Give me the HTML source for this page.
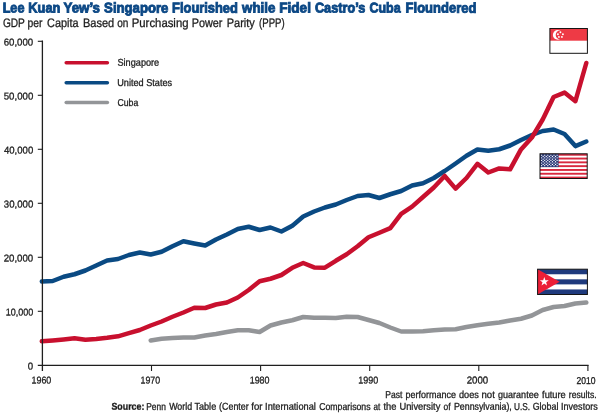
<!DOCTYPE html>
<html><head><meta charset="utf-8"><title>Chart</title>
<style>
html,body{margin:0;padding:0;background:#fff;}
body{width:600px;height:415px;overflow:hidden;font-family:"Liberation Sans",sans-serif;}
svg{display:block;}
text{font-family:"Liberation Sans",sans-serif;}
</style></head><body>
<svg width="600" height="415" viewBox="0 0 600 415">
<rect width="600" height="415" fill="#ffffff"/>
<g opacity="0.999">
<text transform="translate(2.63,12.60) rotate(0.03) scale(0.8916,1)" font-size="14.2" font-weight="bold" fill="#0c4885" stroke="#0c4885" stroke-width="0.9">Lee</text>
<text transform="translate(28.37,12.60) rotate(0.03) scale(0.9002,1)" font-size="14.2" font-weight="bold" fill="#0c4885" stroke="#0c4885" stroke-width="0.9">Kuan</text>
<text transform="translate(63.50,12.60) rotate(0.03) scale(0.9380,1)" font-size="14.2" font-weight="bold" fill="#0c4885" stroke="#0c4885" stroke-width="0.9">Yew’s</text>
<text transform="translate(104.12,12.60) rotate(0.03) scale(0.9266,1)" font-size="14.2" font-weight="bold" fill="#0c4885" stroke="#0c4885" stroke-width="0.9">Singapore</text>
<text transform="translate(172.11,12.60) rotate(0.03) scale(0.9064,1)" font-size="14.2" font-weight="bold" fill="#0c4885" stroke="#0c4885" stroke-width="0.9">Flourished</text>
<text transform="translate(242.12,12.60) rotate(0.03) scale(0.9364,1)" font-size="14.2" font-weight="bold" fill="#0c4885" stroke="#0c4885" stroke-width="0.9">while</text>
<text transform="translate(279.16,12.60) rotate(0.03) scale(0.9600,1)" font-size="14.2" font-weight="bold" fill="#0c4885" stroke="#0c4885" stroke-width="0.9">Fidel</text>
<text transform="translate(314.94,12.60) rotate(0.03) scale(0.8947,1)" font-size="14.2" font-weight="bold" fill="#0c4885" stroke="#0c4885" stroke-width="0.9">Castro’s</text>
<text transform="translate(369.45,12.60) rotate(0.03) scale(0.8786,1)" font-size="14.2" font-weight="bold" fill="#0c4885" stroke="#0c4885" stroke-width="0.9">Cuba</text>
<text transform="translate(405.60,12.60) rotate(0.03) scale(0.9158,1)" font-size="14.2" font-weight="bold" fill="#0c4885" stroke="#0c4885" stroke-width="0.9">Floundered</text>
<text transform="translate(2.89,26.90) rotate(0.03) scale(0.8248,1)" font-size="12.3" fill="#1c1c1c" stroke="#1c1c1c" stroke-width="0.3">GDP</text>
<text transform="translate(27.53,26.90) rotate(0.03) scale(0.8413,1)" font-size="12.3" fill="#1c1c1c" stroke="#1c1c1c" stroke-width="0.3">per</text>
<text transform="translate(47.11,26.90) rotate(0.03) scale(0.8846,1)" font-size="12.3" fill="#1c1c1c" stroke="#1c1c1c" stroke-width="0.3">Capita</text>
<text transform="translate(83.02,26.90) rotate(0.03) scale(0.8962,1)" font-size="12.3" fill="#1c1c1c" stroke="#1c1c1c" stroke-width="0.3">Based</text>
<text transform="translate(117.25,26.90) rotate(0.03) scale(0.8201,1)" font-size="12.3" fill="#1c1c1c" stroke="#1c1c1c" stroke-width="0.3">on</text>
<text transform="translate(131.74,26.90) rotate(0.03) scale(0.9231,1)" font-size="12.3" fill="#1c1c1c" stroke="#1c1c1c" stroke-width="0.3">Purchasing</text>
<text transform="translate(191.78,26.90) rotate(0.03) scale(0.8808,1)" font-size="12.3" fill="#1c1c1c" stroke="#1c1c1c" stroke-width="0.3">Power</text>
<text transform="translate(226.77,26.90) rotate(0.03) scale(0.8931,1)" font-size="12.3" fill="#1c1c1c" stroke="#1c1c1c" stroke-width="0.3">Parity</text>
<text transform="translate(259.07,26.90) rotate(0.03) scale(0.7798,1)" font-size="12.3" fill="#1c1c1c" stroke="#1c1c1c" stroke-width="0.3">(PPP)</text>
<text transform="translate(385.21,398.00) rotate(0.03) scale(0.8576,1)" font-size="10" fill="#1c1c1c" stroke="#1c1c1c" stroke-width="0.3">Past</text>
<text transform="translate(405.61,398.00) rotate(0.03) scale(0.8970,1)" font-size="10" fill="#1c1c1c" stroke="#1c1c1c" stroke-width="0.3">performance</text>
<text transform="translate(459.03,398.00) rotate(0.03) scale(0.9171,1)" font-size="10" fill="#1c1c1c" stroke="#1c1c1c" stroke-width="0.3">does</text>
<text transform="translate(481.53,398.00) rotate(0.03) scale(0.9604,1)" font-size="10" fill="#1c1c1c" stroke="#1c1c1c" stroke-width="0.3">not</text>
<text transform="translate(498.04,398.00) rotate(0.03) scale(0.9033,1)" font-size="10" fill="#1c1c1c" stroke="#1c1c1c" stroke-width="0.3">guarantee</text>
<text transform="translate(542.06,398.00) rotate(0.03) scale(0.9258,1)" font-size="10" fill="#1c1c1c" stroke="#1c1c1c" stroke-width="0.3">future</text>
<text transform="translate(568.84,398.00) rotate(0.03) scale(0.8615,1)" font-size="10" fill="#1c1c1c" stroke="#1c1c1c" stroke-width="0.3">results.</text>
<text transform="translate(111.43,409.80) rotate(0.03) scale(0.8862,1)" font-size="10" font-weight="bold" fill="#1c1c1c" stroke="#1c1c1c" stroke-width="0.3">Source:</text>
<text transform="translate(146.23,409.80) rotate(0.03) scale(0.8408,1)" font-size="10" fill="#1c1c1c" stroke="#1c1c1c" stroke-width="0.3">Penn</text>
<text transform="translate(169.15,409.80) rotate(0.03) scale(0.8866,1)" font-size="10" fill="#1c1c1c" stroke="#1c1c1c" stroke-width="0.3">World</text>
<text transform="translate(194.47,409.80) rotate(0.03) scale(0.9101,1)" font-size="10" fill="#1c1c1c" stroke="#1c1c1c" stroke-width="0.3">Table</text>
<text transform="translate(219.12,409.80) rotate(0.03) scale(0.8876,1)" font-size="10" fill="#1c1c1c" stroke="#1c1c1c" stroke-width="0.3">(Center</text>
<text transform="translate(251.30,409.80) rotate(0.03) scale(0.9572,1)" font-size="10" fill="#1c1c1c" stroke="#1c1c1c" stroke-width="0.3">for</text>
<text transform="translate(265.07,409.80) rotate(0.03) scale(0.9240,1)" font-size="10" fill="#1c1c1c" stroke="#1c1c1c" stroke-width="0.3">International</text>
<text transform="translate(319.21,409.80) rotate(0.03) scale(0.8732,1)" font-size="10" fill="#1c1c1c" stroke="#1c1c1c" stroke-width="0.3">Comparisons</text>
<text transform="translate(373.57,409.80) rotate(0.03) scale(0.8153,1)" font-size="10" fill="#1c1c1c" stroke="#1c1c1c" stroke-width="0.3">at</text>
<text transform="translate(383.51,409.80) rotate(0.03) scale(0.9333,1)" font-size="10" fill="#1c1c1c" stroke="#1c1c1c" stroke-width="0.3">the</text>
<text transform="translate(399.45,409.80) rotate(0.03) scale(0.9317,1)" font-size="10" fill="#1c1c1c" stroke="#1c1c1c" stroke-width="0.3">University</text>
<text transform="translate(443.56,409.80) rotate(0.03) scale(0.8415,1)" font-size="10" fill="#1c1c1c" stroke="#1c1c1c" stroke-width="0.3">of</text>
<text transform="translate(453.94,409.80) rotate(0.03) scale(0.8832,1)" font-size="10" fill="#1c1c1c" stroke="#1c1c1c" stroke-width="0.3">Pennsylvania),</text>
<text transform="translate(514.03,409.80) rotate(0.03) scale(0.8249,1)" font-size="10" fill="#1c1c1c" stroke="#1c1c1c" stroke-width="0.3">U.S.</text>
<text transform="translate(532.71,409.80) rotate(0.03) scale(0.8890,1)" font-size="10" fill="#1c1c1c" stroke="#1c1c1c" stroke-width="0.3">Global</text>
<text transform="translate(561.09,409.80) rotate(0.03) scale(0.9015,1)" font-size="10" fill="#1c1c1c" stroke="#1c1c1c" stroke-width="0.3">Investors</text>
<text transform="translate(3.67,45.60) rotate(0.03) scale(0.9689,1)" font-size="10" fill="#1c1c1c" stroke="#1c1c1c" stroke-width="0.3">60,000</text>
<text transform="translate(3.76,99.60) rotate(0.03) scale(0.9657,1)" font-size="10" fill="#1c1c1c" stroke="#1c1c1c" stroke-width="0.3">50,000</text>
<text transform="translate(3.96,153.60) rotate(0.03) scale(0.9592,1)" font-size="10" fill="#1c1c1c" stroke="#1c1c1c" stroke-width="0.3">40,000</text>
<text transform="translate(3.81,207.60) rotate(0.03) scale(0.9640,1)" font-size="10" fill="#1c1c1c" stroke="#1c1c1c" stroke-width="0.3">30,000</text>
<text transform="translate(3.67,261.60) rotate(0.03) scale(0.9689,1)" font-size="10" fill="#1c1c1c" stroke="#1c1c1c" stroke-width="0.3">20,000</text>
<text transform="translate(5.67,315.60) rotate(0.03) scale(0.9025,1)" font-size="10" fill="#1c1c1c" stroke="#1c1c1c" stroke-width="0.3">10,000</text>
<text transform="translate(27.81,369.50) rotate(0.03) scale(0.9691,1)" font-size="10" fill="#1c1c1c" stroke="#1c1c1c" stroke-width="0.3">0</text>
<text transform="translate(31.48,383.50) rotate(0.03) scale(0.8943,1)" font-size="10" fill="#1c1c1c" stroke="#1c1c1c" stroke-width="0.3">1960</text>
<text transform="translate(140.49,383.50) rotate(0.03) scale(0.8848,1)" font-size="10" fill="#1c1c1c" stroke="#1c1c1c" stroke-width="0.3">1970</text>
<text transform="translate(249.68,383.50) rotate(0.03) scale(0.8943,1)" font-size="10" fill="#1c1c1c" stroke="#1c1c1c" stroke-width="0.3">1980</text>
<text transform="translate(358.23,383.50) rotate(0.03) scale(0.8966,1)" font-size="10" fill="#1c1c1c" stroke="#1c1c1c" stroke-width="0.3">1990</text>
<text transform="translate(466.67,383.50) rotate(0.03) scale(0.9680,1)" font-size="10" fill="#1c1c1c" stroke="#1c1c1c" stroke-width="0.3">2000</text>
<text transform="translate(576.42,383.50) rotate(0.03) scale(0.8558,1)" font-size="10" fill="#1c1c1c" stroke="#1c1c1c" stroke-width="0.3">2010</text>
<text transform="translate(117.49,65.80) rotate(0.03) scale(0.9155,1)" font-size="10" fill="#1c1c1c" stroke="#1c1c1c" stroke-width="0.3">Singapore</text>
<text transform="translate(117.21,85.90) rotate(0.03) scale(0.9154,1)" font-size="10" fill="#1c1c1c" stroke="#1c1c1c" stroke-width="0.3">United States</text>
<text transform="translate(117.46,105.80) rotate(0.03) scale(0.8723,1)" font-size="10" fill="#1c1c1c" stroke="#1c1c1c" stroke-width="0.3">Cuba</text>
</g>
<path d="M66.2,62.7 H107.4" stroke="#c8102e" stroke-width="3.5" stroke-linecap="round" fill="none"/>
<path d="M66.2,82.75 H107.4" stroke="#0a4a83" stroke-width="3.5" stroke-linecap="round" fill="none"/>
<path d="M66.2,102.45 H107.4" stroke="#939598" stroke-width="3.5" stroke-linecap="round" fill="none"/>
<path d="M150.7,340.50 L161.6,338.75 L172.5,338.00 L183.4,337.50 L194.3,337.50 L205.2,335.50 L216.0,334.00 L226.9,332.00 L237.8,330.25 L248.7,330.25 L259.6,332.00 L270.5,325.50 L281.4,322.50 L292.3,320.25 L303.2,317.00 L314.1,317.75 L324.9,317.75 L335.8,318.00 L346.7,316.75 L357.6,317.00 L368.5,320.00 L379.4,323.00 L390.3,327.50 L401.2,331.50 L412.1,331.50 L423.0,331.25 L433.8,330.25 L444.7,329.50 L455.6,329.25 L466.5,327.00 L477.4,325.25 L488.3,323.75 L499.2,322.50 L510.1,320.50 L521.0,318.75 L531.9,315.50 L542.7,310.00 L553.6,307.00 L564.5,306.00 L575.4,303.50 L586.3,302.50" stroke="#939598" stroke-width="4.5" stroke-linecap="round" stroke-linejoin="round" fill="none"/>
<path d="M41.8,281.50 L52.7,281.00 L63.6,276.75 L74.5,274.25 L85.4,270.50 L96.2,265.50 L107.1,260.50 L118.0,259.00 L128.9,255.00 L139.8,252.50 L150.7,254.50 L161.6,251.75 L172.5,246.25 L183.4,241.25 L194.3,243.50 L205.2,245.50 L216.0,239.50 L226.9,234.50 L237.8,229.00 L248.7,226.75 L259.6,230.00 L270.5,227.50 L281.4,231.50 L292.3,225.75 L303.2,216.50 L314.1,211.50 L324.9,207.50 L335.8,204.50 L346.7,200.00 L357.6,196.00 L368.5,195.00 L379.4,198.00 L390.3,194.25 L401.2,191.00 L412.1,185.50 L423.0,183.25 L433.8,178.00 L444.7,171.00 L455.6,163.50 L466.5,155.75 L477.4,149.50 L488.3,150.75 L499.2,149.25 L510.1,145.50 L521.0,140.00 L531.9,135.00 L542.7,131.00 L553.6,129.50 L564.5,134.00 L575.4,146.10 L586.3,141.50" stroke="#0a4a83" stroke-width="4.5" stroke-linecap="round" stroke-linejoin="round" fill="none"/>
<path d="M41.8,341.30 L52.7,340.50 L63.6,339.50 L74.5,338.30 L85.4,339.80 L96.2,339.00 L107.1,337.80 L118.0,336.30 L128.9,333.20 L139.8,330.00 L150.7,325.50 L161.6,321.50 L172.5,316.75 L183.4,312.50 L194.3,307.75 L205.2,308.00 L216.0,304.50 L226.9,302.50 L237.8,297.50 L248.7,290.00 L259.6,281.25 L270.5,278.75 L281.4,275.00 L292.3,267.80 L303.2,263.00 L314.1,267.40 L324.9,267.70 L335.8,260.80 L346.7,254.30 L357.6,246.30 L368.5,237.30 L379.4,232.70 L390.3,228.20 L401.2,213.80 L412.1,206.60 L423.0,197.00 L433.8,187.50 L444.7,176.00 L455.6,188.60 L466.5,178.00 L477.4,163.80 L488.3,172.50 L499.2,168.40 L510.1,169.30 L521.0,149.40 L531.9,137.50 L542.7,119.50 L553.6,97.00 L564.5,92.60 L575.4,101.20 L586.3,63.00" stroke="#c8102e" stroke-width="4.5" stroke-linecap="round" stroke-linejoin="round" fill="none"/>
<g stroke="#1f1f1f" stroke-width="1.3" fill="none">
<path d="M42.4,40.6 V371"/>
<path d="M37.8,365.3 H588.6"/>
<path d="M37.8,41.3 H42.4" stroke-width="1.1"/>
<path d="M37.8,95.3 H42.4" stroke-width="1.1"/>
<path d="M37.8,149.3 H42.4" stroke-width="1.1"/>
<path d="M37.8,203.3 H42.4" stroke-width="1.1"/>
<path d="M37.8,257.3 H42.4" stroke-width="1.1"/>
<path d="M37.8,311.3 H42.4" stroke-width="1.1"/>
<path d="M151.5,365.3 V371" stroke-width="1.1"/>
<path d="M260.6,365.3 V371" stroke-width="1.1"/>
<path d="M369.7,365.3 V371" stroke-width="1.1"/>
<path d="M478.8,365.3 V371" stroke-width="1.1"/>
<path d="M587.9,365.3 V371" stroke-width="1.1"/>
</g>
<g>
<rect x="549.9" y="28.5" width="37.5" height="24.8" fill="#ffffff"/>
<rect x="549.9" y="28.5" width="37.5" height="12.2" fill="#ee3a45"/>
<circle cx="557.8" cy="34.9" r="4.9" fill="#ffffff"/>
<circle cx="560.1" cy="34.9" r="4.4" fill="#ee3a45"/>
<g fill="#ffffff"><circle cx="560.4" cy="32.3" r="0.95"/><circle cx="557.9" cy="34.2" r="0.95"/><circle cx="562.9" cy="34.2" r="0.95"/><circle cx="558.9" cy="36.9" r="0.95"/><circle cx="561.9" cy="36.9" r="0.95"/></g>
<rect x="549.9" y="28.5" width="37.5" height="24.8" fill="none" stroke="#151515" stroke-width="1"/>
</g>
<g>
<rect x="540" y="153.8" width="47.2" height="24.7" fill="#ffffff"/>
<rect x="540" y="153.80" width="47.2" height="1.90" fill="#d8293f"/>
<rect x="540" y="157.60" width="47.2" height="1.90" fill="#d8293f"/>
<rect x="540" y="161.40" width="47.2" height="1.90" fill="#d8293f"/>
<rect x="540" y="165.20" width="47.2" height="1.90" fill="#d8293f"/>
<rect x="540" y="169.00" width="47.2" height="1.90" fill="#d8293f"/>
<rect x="540" y="172.80" width="47.2" height="1.90" fill="#d8293f"/>
<rect x="540" y="176.60" width="47.2" height="1.90" fill="#d8293f"/>
<rect x="540" y="153.8" width="18.6" height="13.30" fill="#2c3a78"/>
<g fill="#ffffff">
<circle cx="541.60" cy="155.20" r="0.65"/><circle cx="544.70" cy="155.20" r="0.65"/><circle cx="547.80" cy="155.20" r="0.65"/><circle cx="550.90" cy="155.20" r="0.65"/><circle cx="554.00" cy="155.20" r="0.65"/><circle cx="557.10" cy="155.20" r="0.65"/><circle cx="543.15" cy="156.51" r="0.65"/><circle cx="546.25" cy="156.51" r="0.65"/><circle cx="549.35" cy="156.51" r="0.65"/><circle cx="552.45" cy="156.51" r="0.65"/><circle cx="555.55" cy="156.51" r="0.65"/><circle cx="541.60" cy="157.83" r="0.65"/><circle cx="544.70" cy="157.83" r="0.65"/><circle cx="547.80" cy="157.83" r="0.65"/><circle cx="550.90" cy="157.83" r="0.65"/><circle cx="554.00" cy="157.83" r="0.65"/><circle cx="557.10" cy="157.83" r="0.65"/><circle cx="543.15" cy="159.14" r="0.65"/><circle cx="546.25" cy="159.14" r="0.65"/><circle cx="549.35" cy="159.14" r="0.65"/><circle cx="552.45" cy="159.14" r="0.65"/><circle cx="555.55" cy="159.14" r="0.65"/><circle cx="541.60" cy="160.45" r="0.65"/><circle cx="544.70" cy="160.45" r="0.65"/><circle cx="547.80" cy="160.45" r="0.65"/><circle cx="550.90" cy="160.45" r="0.65"/><circle cx="554.00" cy="160.45" r="0.65"/><circle cx="557.10" cy="160.45" r="0.65"/><circle cx="543.15" cy="161.76" r="0.65"/><circle cx="546.25" cy="161.76" r="0.65"/><circle cx="549.35" cy="161.76" r="0.65"/><circle cx="552.45" cy="161.76" r="0.65"/><circle cx="555.55" cy="161.76" r="0.65"/><circle cx="541.60" cy="163.08" r="0.65"/><circle cx="544.70" cy="163.08" r="0.65"/><circle cx="547.80" cy="163.08" r="0.65"/><circle cx="550.90" cy="163.08" r="0.65"/><circle cx="554.00" cy="163.08" r="0.65"/><circle cx="557.10" cy="163.08" r="0.65"/><circle cx="543.15" cy="164.39" r="0.65"/><circle cx="546.25" cy="164.39" r="0.65"/><circle cx="549.35" cy="164.39" r="0.65"/><circle cx="552.45" cy="164.39" r="0.65"/><circle cx="555.55" cy="164.39" r="0.65"/><circle cx="541.60" cy="165.70" r="0.65"/><circle cx="544.70" cy="165.70" r="0.65"/><circle cx="547.80" cy="165.70" r="0.65"/><circle cx="550.90" cy="165.70" r="0.65"/><circle cx="554.00" cy="165.70" r="0.65"/><circle cx="557.10" cy="165.70" r="0.65"/>
</g>
<rect x="540" y="153.8" width="47.2" height="24.7" fill="none" stroke="#151515" stroke-width="1"/>
</g>
<g>
<rect x="537.6" y="269.2" width="49.8" height="25.3" fill="#ffffff"/>
<rect x="537.6" y="269.20" width="49.8" height="5.06" fill="#1f3a7d"/>
<rect x="537.6" y="279.32" width="49.8" height="5.06" fill="#1f3a7d"/>
<rect x="537.6" y="289.44" width="49.8" height="5.06" fill="#1f3a7d"/>
<path d="M537.6,269.2 L559.6,281.84999999999997 L537.6,294.5 Z" fill="#ec1f37"/>
<polygon points="544.30,277.00 545.42,280.16 548.77,280.25 546.11,282.29 547.06,285.50 544.30,283.60 541.54,285.50 542.49,282.29 539.83,280.25 543.18,280.16" fill="#ffffff"/>
<rect x="537.6" y="269.2" width="49.8" height="25.3" fill="none" stroke="#151515" stroke-width="1"/>
</g>
</svg>
</body></html>
